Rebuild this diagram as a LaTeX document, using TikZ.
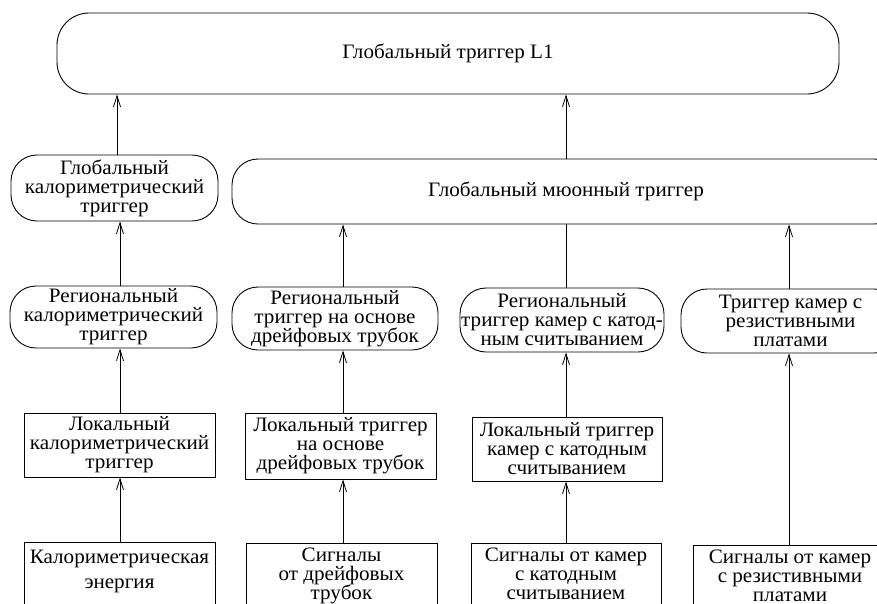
\documentclass[tikz,border=0pt]{standalone}
\usepackage{fontspec}
\setmainfont{Liberation Serif}[FakeStretch=1.03]
\usetikzlibrary{arrows.meta}
\newcommand\diagfont{\fontsize{20.5}{19}\selectfont\lineskiplimit=-20pt\relax\lineskip=0pt\relax}
\begin{document}
\begin{tikzpicture}[x=1pt,y=-1pt,
  base/.style={draw, line width=0.9pt, align=center, inner sep=0pt, font=\diagfont},
  rbox/.style={base, rounded corners=26pt},
  sbox/.style={base},
  bbox/.style={base, anchor=north, inner ysep=4pt, text depth=70pt},
  arr/.style={-{Straight Barb[length=11pt,width=7pt,line width=0.8pt]}, line width=0.8pt},
  ln/.style={line width=0.8pt}]
\useasboundingbox (0,0) rectangle (877,603);
\clip (0,0) rectangle (877,603);
% columns for connectors
\coordinate (c0) at (117,0);
\coordinate (c1) at (120,0);
\coordinate (c2) at (343,0);
\coordinate (c3) at (566,0);
\coordinate (c4) at (789,0);
% top
\node[rbox, rounded corners=32pt, minimum width=782pt, minimum height=81pt] (l1) at (448,53.5) {Глобальный триггер L1};
% global level
\node[rbox, minimum width=207pt, minimum height=66pt] (gcal) at (114.5,188) {Глобальный\\калориметрический\\триггер};
\node[rbox, minimum width=668pt, minimum height=65pt] (muon) at (566,191.5) {Глобальный мюонный триггер};
% regional level
\node[rbox, minimum width=207pt, minimum height=62pt] (rcal) at (113.5,317) {Региональный\\калориметрический\\триггер};
\node[rbox, minimum width=206pt, minimum height=63pt] (rdt) at (335,318.5) {Региональный\\триггер на основе\\дрейфовых трубок};
\node[rbox, minimum width=204pt, minimum height=64pt] (rcat) at (562,320) {Региональный\\триггер камер с катод-\\ным считыванием};
\node[rbox, minimum width=219pt, minimum height=64pt] (rpc) at (790.5,321) {Триггер камер с\\резистивными\\платами};
% local level
\node[sbox, minimum width=191pt, minimum height=64pt] (lcal) at (119.5,445) {Локальный\\калориметрический\\триггер};
\node[sbox, minimum width=191pt, minimum height=66pt] (ldt) at (340.5,446) {Локальный триггер\\на основе\\дрейфовых трубок};
\node[sbox, minimum width=190pt, minimum height=64pt] (lcat) at (567,449) {Локальный триггер\\камер с катодным\\считыванием};
% signals
\node[bbox, inner ysep=8pt, minimum width=191pt] (bcal) at (119.5,542) {Калориметрическая\\[6pt]энергия};
\node[bbox, minimum width=191pt] (bdt) at (341.5,543) {Сигналы\\от дрейфовых\\трубок};
\node[bbox, minimum width=190pt] (bcat) at (566,543) {Сигналы от камер\\с катодным\\считыванием};
\node[bbox, minimum width=194pt] (brpc) at (790,545) {Сигналы от камер\\с резистивными\\платами};
% connectors
\draw[arr] (gcal.north -| c0) -- (l1.south -| c0);
\draw[arr] (muon.north -| c3) -- (l1.south -| c3);
\draw[arr] (rcal.north -| c1) -- (gcal.south -| c1);
\draw[arr] (rdt.north -| c2) -- (muon.south -| c2);
\draw[ln]  (rcat.north -| c3) -- (muon.south -| c3);
\draw[arr] (rpc.north -| c4) -- (muon.south -| c4);
\draw[arr] (lcal.north -| c1) -- (rcal.south -| c1);
\draw[arr] (ldt.north -| c2) -- (rdt.south -| c2);
\draw[arr] (lcat.north -| c3) -- (rcat.south -| c3);
\draw[arr] (bcal.north -| c1) -- (lcal.south -| c1);
\draw[arr] (bdt.north -| c2) -- (ldt.south -| c2);
\draw[arr] (bcat.north -| c3) -- (lcat.south -| c3);
\draw[arr] (brpc.north -| c4) -- (rpc.south -| c4);
\end{tikzpicture}
\end{document}
